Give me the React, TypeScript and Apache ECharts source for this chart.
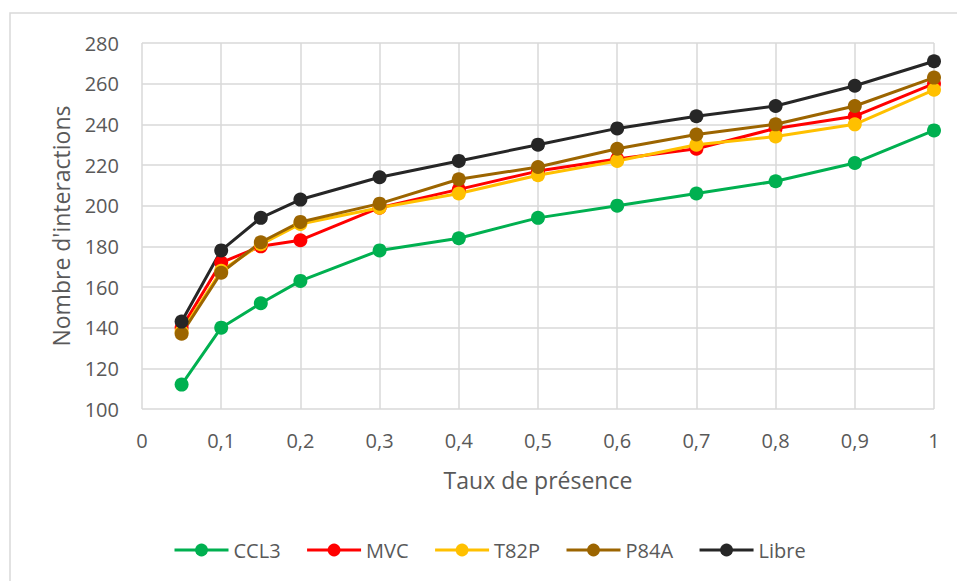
import React, { useEffect, useRef } from "react";
import * as echarts from "echarts";

const xValues = [0.05, 0.1, 0.15, 0.2, 0.3, 0.4, 0.5, 0.6, 0.7, 0.8, 0.9, 1];
const seriesNames = ["CCL3", "MVC", "T82P", "P84A", "Libre"];
const ccl3 = [112, 140, 152, 163, 178, 184, 194, 200, 206, 212, 221, 237];
const mvc = [140, 172, 180, 183, 199, 208, 217, 223, 228, 238, 244, 260];
const t82p = [138, 168, 181, 191, 199, 206, 215, 222, 230, 234, 240, 257];
const p84a = [137, 167, 182, 192, 201, 213, 219, 228, 235, 240, 249, 263];
const libre = [143, 178, 194, 203, 214, 222, 230, 238, 244, 249, 259, 271];
const seriesColors = ["#00B050", "#FF0000", "#FFC000", "#9C6500", "#262626"];

const FONT = "'Open Sans', sans-serif";
const TEXT = "#595959";

export default function App() {
  const ref = useRef<HTMLDivElement>(null);
  useEffect(() => {
    if (!ref.current) return;
    const chart = echarts.init(ref.current, undefined, { renderer: "svg" });
    const allData = [ccl3, mvc, t82p, p84a, libre];
    chart.setOption({
      animation: false,
      backgroundColor: "#ffffff",
      textStyle: { fontFamily: FONT, color: TEXT },
      graphic: [
        {
          type: "rect",
          shape: { x: 10, y: 13, width: 960, height: 600 },
          style: { fill: "none", stroke: "#d9d9d9", lineWidth: 1.5 },
          silent: true,
        },
      ],
      grid: { left: 142, right: 23, top: 43, bottom: 172 },
      legend: {
        left: 168,
        top: 535,
        itemWidth: 54,
        itemHeight: 16,
        itemGap: 25,
        lineStyle: { width: 3 },
        textStyle: { fontFamily: FONT, fontSize: 20, color: TEXT },
        data: seriesNames,
      },
      xAxis: {
        type: "value",
        min: 0,
        max: 1,
        interval: 0.1,
        name: "Taux de présence",
        nameLocation: "middle",
        nameGap: 59,
        nameTextStyle: { fontFamily: FONT, fontSize: 23, color: TEXT },
        axisLine: { show: false },
        axisTick: { show: false },
        axisLabel: {
          margin: 21,
          fontFamily: FONT,
          fontSize: 20,
          color: TEXT,
          formatter: (v: number) => {
            const r = Math.round(v * 10) / 10;
            return Number.isInteger(r) ? String(r) : r.toFixed(1).replace(".", ",");
          },
        },
        splitLine: { show: true, lineStyle: { color: "#d9d9d9", width: 1.5 } },
      },
      yAxis: {
        type: "value",
        min: 100,
        max: 280,
        interval: 20,
        name: "Nombre d'interactions",
        nameLocation: "middle",
        nameGap: 70,
        nameTextStyle: { fontFamily: FONT, fontSize: 23, color: TEXT },
        axisLine: { show: false },
        axisTick: { show: false },
        axisLabel: { margin: 23, fontFamily: FONT, fontSize: 20, color: TEXT },
        splitLine: { show: true, lineStyle: { color: "#d9d9d9", width: 1.5 } },
      },
      series: seriesNames.map((name, i) => ({
        name,
        type: "line",
        data: xValues.map((x, j) => [x, allData[i][j]]),
        symbol: "circle",
        symbolSize: 14,
        color: seriesColors[i],
        lineStyle: { width: 3, color: seriesColors[i] },
        itemStyle: { color: seriesColors[i] },
      })),
    });
    return () => chart.dispose();
  }, []);
  return (
    <div
      ref={ref}
      style={{ position: "fixed", left: 0, top: 0, width: 957, height: 581 }}
    />
  );
}
